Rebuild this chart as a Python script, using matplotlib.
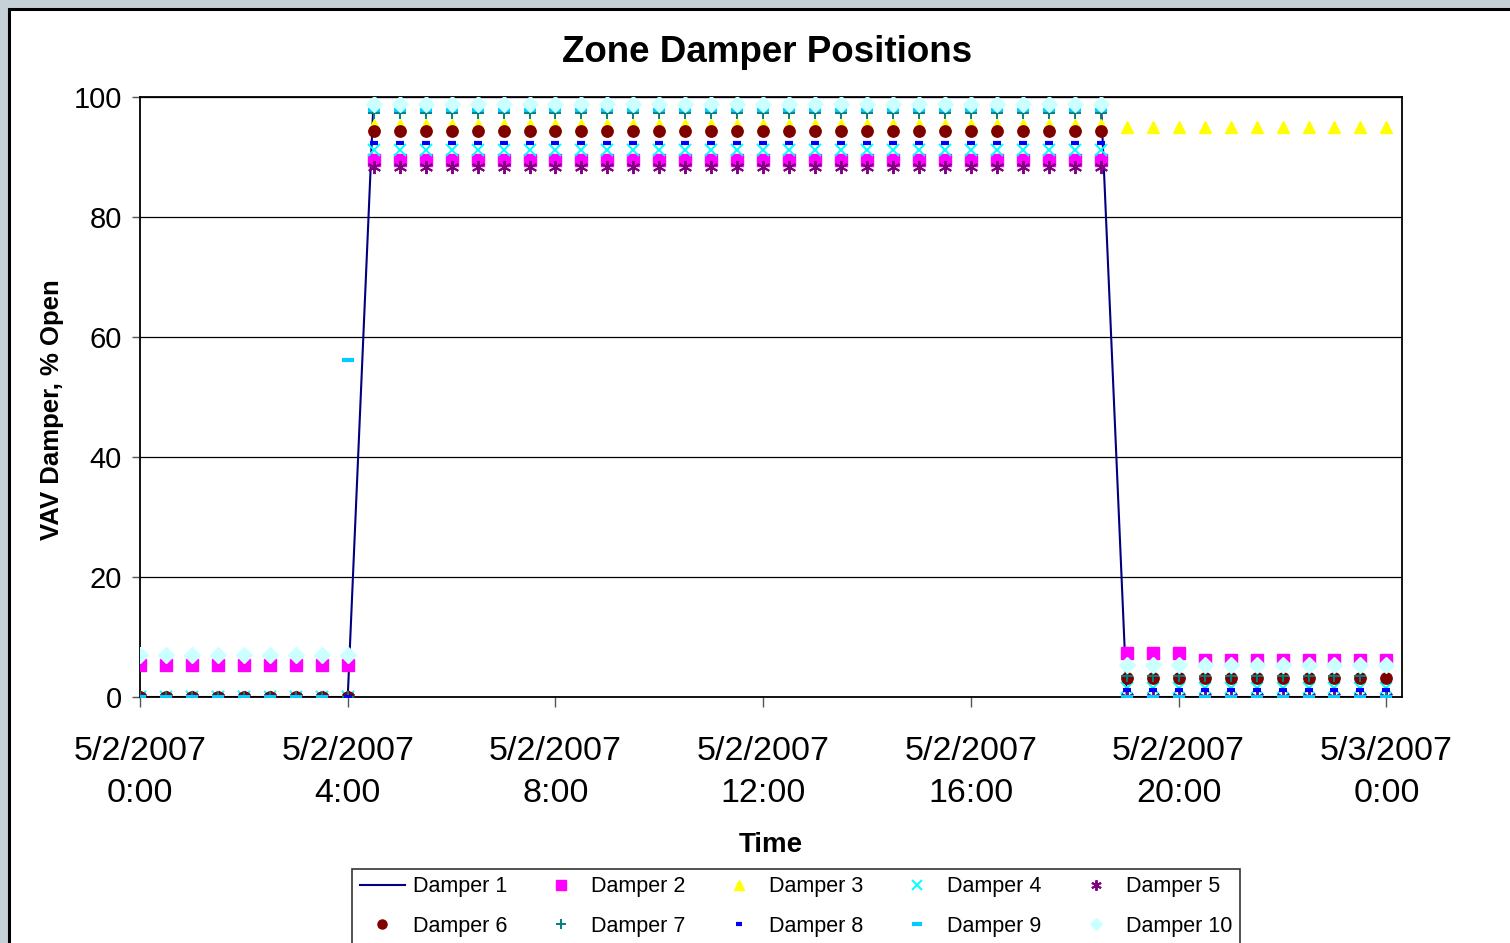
import matplotlib
matplotlib.use("Agg")
import matplotlib.pyplot as plt
from matplotlib.patches import Rectangle

plt.rcParams['font.family'] = ['Liberation Sans', 'DejaVu Sans']

# time in hours since 5/2/2007 0:00, every 30 minutes
hours = [i * 0.5 for i in range(49)]

# segments: 0:00-4:00 (9 pts), 4:30-18:30 (29 pts), 19:00-24:00 (11 pts)
damper1 = [0] * 9 + [100] * 29 + [0] * 11
damper2 = [5.3] * 9 + [89.5] * 29 + [7.3] * 3 + [6.2] * 8
damper3 = [0] * 9 + [95.3] * 29 + [95.0] * 11
damper4 = [0] * 9 + [91.2] * 29 + [1.5] * 11
damper5 = [0] * 9 + [88.3] * 29 + [0] * 11
damper6 = [0] * 9 + [94.3] * 29 + [3.2] * 11
damper7 = [0] * 9 + [97.4] * 29 + [3.5] * 10 + [0]
damper8 = [0] * 9 + [92.3] * 29 + [1.2] * 11
damper9 = [0] * 8 + [56.2] + [97.9] * 29 + [0] * 11
damper10 = [7.0] * 9 + [98.8] * 29 + [5.3] * 11

tick_hours = [0, 4, 8, 12, 16, 20, 24]
tick_labels = ["5/2/2007\n0:00", "5/2/2007\n4:00", "5/2/2007\n8:00", "5/2/2007\n12:00",
               "5/2/2007\n16:00", "5/2/2007\n20:00", "5/3/2007\n0:00"]

W, H = 1510, 943
fig = plt.figure(figsize=(W / 100, H / 100), dpi=100)
fig.patch.set_facecolor('#c6d1d7')
bg = Rectangle((8.5 / W, -0.01), 1.05, 1 - 8.5 / H + 0.01,
               transform=fig.transFigure, facecolor='white',
               edgecolor='black', linewidth=2.2, zorder=-10)
fig.patches.append(bg)

ax = fig.add_axes([140 / W, 1 - 697 / H, (1402 - 140) / W, (697 - 97) / H])
ax.set_facecolor('white')
ax.set_zorder(1)

ms = 8.6
h = {}
h[1], = ax.plot(hours, damper1, color='#000080', lw=1.5, label='Damper 1', zorder=2)
h[2], = ax.plot(hours, damper2, ls='none', marker='s', ms=ms * 0.95, color='#ff00ff', mec='#ff00ff', label='Damper 2', zorder=3)
h[3], = ax.plot(hours, damper3, ls='none', marker='^', ms=ms * 1.05, color='#ffff00', mec='#ffff00', label='Damper 3', zorder=3)
h[4], = ax.plot(hours, damper4, ls='none', marker='x', ms=ms, color='#00ffff', mew=1.4, label='Damper 4', zorder=3)
h[5], = ax.plot(hours, damper5, ls='none', marker=(6, 2, 0), ms=ms * 1.1, color='#800080', mew=1.4, label='Damper 5', zorder=3)
h[6], = ax.plot(hours, damper6, ls='none', marker='o', ms=ms * 0.95, color='#800000', mec='#800000', label='Damper 6', zorder=3)
h[7], = ax.plot(hours, damper7, ls='none', marker='+', ms=ms, color='#008080', mew=1.4, label='Damper 7', zorder=3)
h[8], = ax.plot(hours, damper8, ls='none', marker='_', ms=ms * 0.7, color='#0000ff', mew=3, label='Damper 8', zorder=3)
h[9], = ax.plot(hours, damper9, ls='none', marker='_', ms=ms * 1.05, color='#00ccff', mew=3, label='Damper 9', zorder=3)
h[10], = ax.plot(hours, damper10, ls='none', marker='D', ms=ms * 0.95, color='#ccffff', mec='#ccffff', label='Damper 10', zorder=3)

ax.set_xlim(0, 24.3)
ax.set_ylim(0, 100)
ax.set_yticks([0, 20, 40, 60, 80, 100])
ax.set_xticks(tick_hours)
ax.set_xticklabels(tick_labels, fontsize=24.5, linespacing=1.47)
ax.tick_params(axis='y', labelsize=21, length=6, width=1, color='#555555', pad=7)
ax.tick_params(axis='x', length=7, width=1, color='#555555', pad=21)
ax.grid(axis='y', color='black', lw=0.9)
ax.set_axisbelow(True)
for s in ax.spines.values():
    s.set_color('black')
    s.set_linewidth(1.3)

fig.text(767 / W, 1 - 52 / H, "Zone Damper Positions", fontsize=26.5, fontweight='bold',
         ha='center', va='center')
fig.text(771 / W, 1 - 845 / H, "Time", fontsize=20, fontweight='bold', ha='center', va='center')
fig.text(52 / W, 1 - 410 / H, "VAV Damper, % Open", fontsize=18.5, fontweight='bold',
         ha='center', va='center', rotation=90)

order = [1, 6, 2, 7, 3, 8, 4, 9, 5, 10]
leg = fig.legend([h[i] for i in order], [h[i].get_label() for i in order],
                 loc='upper center', bbox_to_anchor=(796 / W, 1 - 858 / H), ncol=5,
                 fontsize=15.5, frameon=True, fancybox=False, edgecolor='black',
                 borderpad=0.35, columnspacing=1.45, handlelength=2.1, labelspacing=0.85,
                 handletextpad=0.35, markerscale=0.8)
leg.get_frame().set_linewidth(1.2)

fig.savefig("out.png", dpi=100, facecolor=fig.get_facecolor())
